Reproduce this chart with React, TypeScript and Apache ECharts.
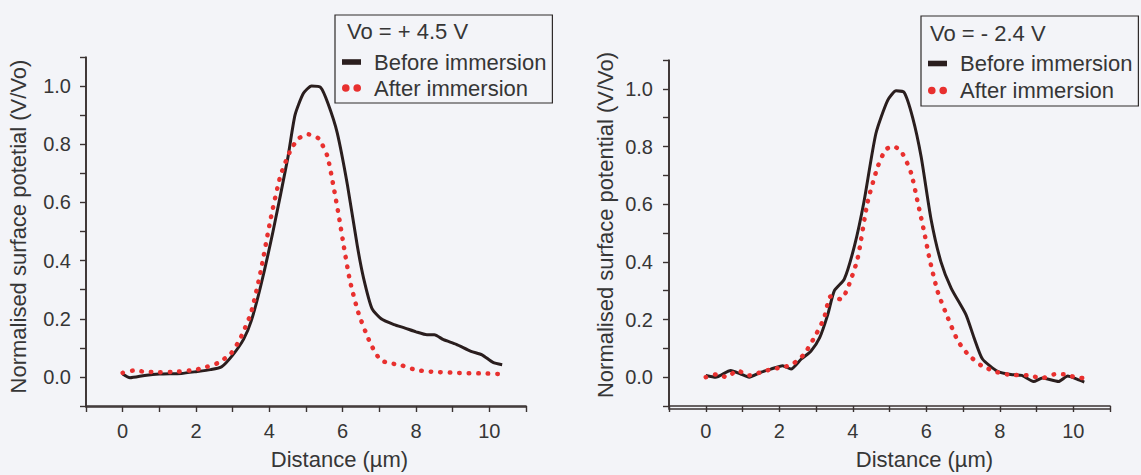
import React, { useEffect, useRef } from "react";
import * as echarts from "echarts";

// ---------- data (distance in µm, normalised potential V/Vo) ----------
const leftBefore: [number, number][] = [
  [0.0, 0.01], [0.2, -0.003], [0.6, 0.005], [1.0, 0.01], [1.6, 0.012], [2.0, 0.018],
  [2.4, 0.025], [2.7, 0.035], [3.0, 0.075], [3.3, 0.13], [3.5, 0.19], [3.76, 0.31],
  [4.1, 0.5], [4.5, 0.75], [4.7, 0.9], [4.93, 0.975], [5.15, 1.0], [5.4, 0.995],
  [5.6, 0.94], [5.85, 0.84], [6.13, 0.66], [6.4, 0.45], [6.57, 0.34], [6.8, 0.235],
  [7.05, 0.2], [7.4, 0.18], [7.7, 0.168], [8.0, 0.155], [8.3, 0.145], [8.5, 0.145],
  [8.75, 0.128], [9.1, 0.112], [9.5, 0.088], [9.8, 0.076], [10.1, 0.05], [10.35, 0.042],
];
const leftAfter: [number, number][] = [
  [0.0, 0.014], [0.3, 0.022], [0.6, 0.018], [1.0, 0.016], [1.5, 0.018], [2.0, 0.025],
  [2.3, 0.035], [2.6, 0.048], [2.95, 0.08], [3.2, 0.13], [3.5, 0.22], [3.76, 0.36],
  [4.03, 0.54], [4.3, 0.69], [4.58, 0.78], [4.8, 0.82], [5.07, 0.834], [5.34, 0.82],
  [5.58, 0.76], [5.75, 0.655], [5.9, 0.55], [6.03, 0.45], [6.2, 0.33], [6.43, 0.22],
  [6.75, 0.117], [7.03, 0.058], [7.3, 0.047], [7.6, 0.04], [8.0, 0.024], [8.4, 0.018],
  [9.1, 0.014], [9.8, 0.012], [10.3, 0.01],
];
const rightBefore: [number, number][] = [
  [0.0, 0.006], [0.27, 0.0], [0.68, 0.023], [0.95, 0.011], [1.18, 0.0], [1.5, 0.017],
  [1.77, 0.028], [2.09, 0.04], [2.32, 0.028], [2.6, 0.063], [2.86, 0.09], [3.1, 0.137],
  [3.32, 0.217], [3.5, 0.3], [3.77, 0.34], [4.05, 0.457], [4.3, 0.605], [4.63, 0.845],
  [4.95, 0.96], [5.18, 0.993], [5.4, 0.987], [5.63, 0.9], [5.86, 0.765], [6.13, 0.548],
  [6.4, 0.4], [6.68, 0.308], [7.08, 0.217], [7.3, 0.137], [7.53, 0.063], [7.94, 0.02],
  [8.3, 0.009], [8.6, 0.006], [8.92, -0.015], [9.16, -0.003], [9.6, -0.015], [9.85, 0.004],
  [10.1, -0.007], [10.3, -0.017],
];
const rightAfter: [number, number][] = [
  [0.0, 0.0], [0.3, 0.01], [0.57, 0.0], [0.86, 0.023], [1.18, 0.006], [1.5, 0.017],
  [1.8, 0.028], [2.09, 0.034], [2.36, 0.045], [2.68, 0.08], [3.0, 0.148], [3.22, 0.205],
  [3.4, 0.28], [3.68, 0.27], [3.86, 0.308], [4.13, 0.41], [4.4, 0.605], [4.68, 0.73],
  [4.9, 0.79], [5.13, 0.8], [5.36, 0.774], [5.59, 0.707], [5.77, 0.605], [5.95, 0.5],
  [6.09, 0.41], [6.31, 0.297], [6.59, 0.205], [6.86, 0.126], [7.13, 0.08], [7.5, 0.04],
  [7.94, 0.017], [8.28, 0.008], [8.77, 0.006], [9.16, -0.003], [9.5, 0.01], [9.75, 0.01],
  [10.05, 0.0], [10.25, -0.003],
];

const seriesNames = ["Before immersion", "After immersion"];
const panelTitles = ["Vo = + 4.5 V", "Vo = - 2.4 V"];
const yAxisTitles = ["Normalised surface potetial (V/Vo)", "Normalised surface potential (V/Vo)"];
const xAxisTitle = "Distance (µm)";

const xMajorTicks = [0, 2, 4, 6, 8, 10];
const xMinorTicks = [-1, 1, 3, 5, 7, 9, 11];
const yMajorTicks = [0, 0.2, 0.4, 0.6, 0.8, 1.0];
const yMinorTicks = [-0.1, 0.1, 0.3, 0.5, 0.7, 0.9, 1.1];
const xRange = [-1, 11];
const yRange = [-0.1, 1.1];

// ---------- styles ----------
const FONT = "'Liberation Sans', Arial, sans-serif";
const AXIS_COLOR = "#3a3232";
const TEXT_COLOR = "#363636";
const BLACK = "#2a1e1e";
const RED = "#e8302f";
const BG = "#f3f4f8";

const grids = [
  { left: 86, top: 57, width: 440, height: 350 },
  { left: 669, top: 60, width: 441, height: 349 },
];

const allX = [...xMinorTicks, ...xMajorTicks].sort((a, b) => a - b);
const allY = [...yMinorTicks, ...yMajorTicks].sort((a, b) => a - b);
const axisLine = { show: true, onZero: false, lineStyle: { color: AXIS_COLOR, width: 1.6 } };
const tickStyle = { color: AXIS_COLOR, width: 1.4 };

function xAxis(g: number, namePadLeft: number) {
  return {
    type: "value", gridIndex: g, position: "bottom", min: xRange[0], max: xRange[1],
    axisLine,
    axisTick: { show: true, customValues: allX, length: 6, lineStyle: tickStyle },
    axisLabel: { customValues: xMajorTicks, margin: 15, color: TEXT_COLOR, fontSize: 20, fontFamily: FONT },
    splitLine: { show: false },
    name: xAxisTitle, nameLocation: "middle", nameGap: 42,
    nameTextStyle: { color: TEXT_COLOR, fontSize: 22, fontFamily: FONT, padding: [0, 0, 0, namePadLeft] },
  };
}

function yAxis(g: number, title: string, labelMargin: number, nameGap: number, namePadLeft: number) {
  return {
    type: "value", gridIndex: g, position: "left", min: yRange[0], max: yRange[1],
    axisLine,
    axisTick: { show: true, customValues: allY, length: 6, lineStyle: tickStyle },
    axisLabel: {
      customValues: yMajorTicks, margin: labelMargin, color: TEXT_COLOR, fontSize: 20, fontFamily: FONT,
      formatter: (v: number) => v.toFixed(1),
    },
    splitLine: { show: false },
    name: title, nameLocation: "middle", nameGap,
    nameTextStyle: { color: TEXT_COLOR, fontSize: 22, fontFamily: FONT, padding: [0, 0, 0, namePadLeft] },
  };
}

function lineSeries(name: string, data: [number, number][], axis: number, dotted: boolean) {
  return {
    type: "line", name, data, xAxisIndex: axis, yAxisIndex: axis,
    showSymbol: false, smooth: 0.2, color: dotted ? RED : BLACK,
    lineStyle: dotted
      ? { color: RED, width: 4.5, type: [0.5, 9], cap: "round" }
      : { color: BLACK, width: 3, type: "solid", join: "round" },
    emphasis: { disabled: true },
    z: dotted ? 3 : 2,
  };
}

const BEFORE_ICON = "path://M0,0H17V5H0Z";
const AFTER_ICON = "path://M3,0A3,3,0,1,1,3,6A3,3,0,1,1,3,0ZM12,0A3,3,0,1,1,12,6A3,3,0,1,1,12,0Z";

function legend(left: number, top: number, padTop: number, rowH: number, width: number) {
  return {
    orient: "vertical", left, top, width,
    padding: [padTop, 6, 2, 7],
    itemGap: 0, itemWidth: 19, itemHeight: 14,
    backgroundColor: BG, borderColor: "#2e2a2a", borderWidth: 1.2,
    selectedMode: false,
    textStyle: { color: TEXT_COLOR, fontSize: 22, fontFamily: FONT, lineHeight: rowH, padding: [0, 0, 0, 8] },
    data: [
      { name: seriesNames[0], icon: BEFORE_ICON, itemStyle: { color: BLACK, borderWidth: 0 }, lineStyle: { width: 0 } },
      { name: seriesNames[1], icon: AFTER_ICON, itemStyle: { color: RED, borderWidth: 0 }, lineStyle: { width: 0 } },
    ],
  };
}

// L-shaped frame along each plot's left and bottom edges
const frames = grids.map((g) => ({
  type: "polyline", z: 100, silent: true,
  shape: { points: [[g.left, g.top], [g.left, g.top + g.height], [g.left + g.width, g.top + g.height]] },
  style: { stroke: AXIS_COLOR, lineWidth: 1.6, fill: "none", lineJoin: "miter" },
}));

export default function App() {
  const ref = useRef<HTMLDivElement>(null);
  useEffect(() => {
    document.body.style.margin = "0";
    document.body.style.background = BG;
    const chart = echarts.init(ref.current!, null, { renderer: "svg" });
    const option = {
      animation: false,
      backgroundColor: BG,
      grid: grids.map((g) => ({ ...g, containLabel: false })),
      xAxis: [xAxis(0, 67), xAxis(1, 70)],
      yAxis: [yAxis(0, yAxisTitles[0], 15, 57, 10), yAxis(1, yAxisTitles[1], 16, 53, 16)],
      legend: [legend(335, 15, 34, 26, 200), legend(921, 16, 34, 27, 210)],
      series: [
        lineSeries(seriesNames[0], leftBefore, 0, false),
        lineSeries(seriesNames[1], leftAfter, 0, true),
        lineSeries(seriesNames[0], rightBefore, 1, false),
        lineSeries(seriesNames[1], rightAfter, 1, true),
      ],
      graphic: [
        {
          type: "text", x: 347, y: 31, z: 100,
          style: { text: panelTitles[0], fontSize: 22, fontFamily: FONT, fill: TEXT_COLOR, verticalAlign: "middle", align: "left" },
        },
        {
          type: "text", x: 930, y: 33, z: 100,
          style: { text: panelTitles[1], fontSize: 22, fontFamily: FONT, fill: TEXT_COLOR, verticalAlign: "middle", align: "left" },
        },
        ...frames,
      ],
    };
    chart.setOption(option as any);
    return () => chart.dispose();
  }, []);
  return <div ref={ref} style={{ width: 1141, height: 475 }} />;
}
